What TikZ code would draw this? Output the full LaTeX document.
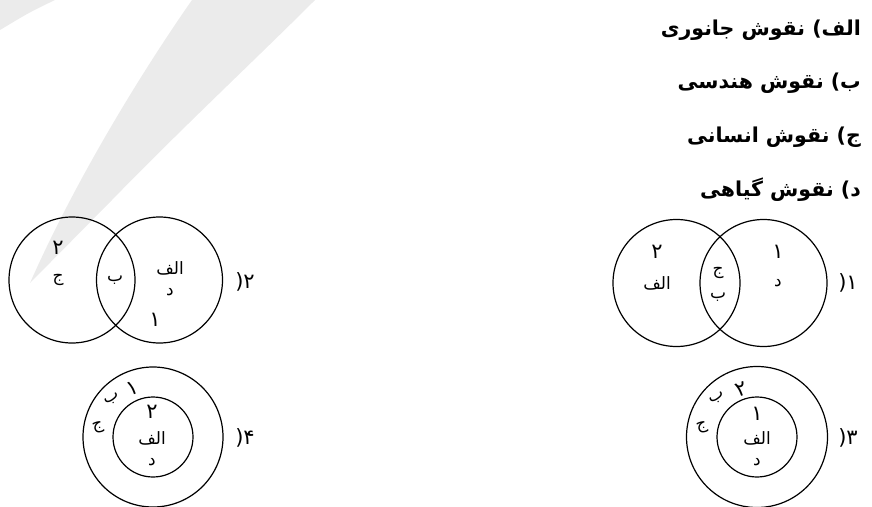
\documentclass[tikz,border=0pt]{standalone}
\usepackage{fontspec}
\newfontfamily\fa[Script=Arabic]{DejaVu Sans}
\TeXXeTstate=1
\newcommand{\rl}[1]{\beginR#1\endR}
\definecolor{wmark}{gray}{0.92}
\tikzset{
  ring/.style={draw,circle,line width=1.2pt,inner sep=0pt},
  lbl/.style={font=\fa\fontsize{17}{17}\selectfont,inner sep=0pt},
  num/.style={lbl,font=\fa\fontsize{21}{21}\selectfont},
  opt/.style={lbl,font=\fa\fontsize{21}{21}\selectfont},
  head/.style={anchor=east,inner sep=0pt,font=\fa\bfseries\fontsize{20.5}{20.5}\selectfont},
}

\begin{document}
\begin{tikzpicture}[x=1pt,y=-1pt]
\useasboundingbox (0,0) rectangle (872,506);
% watermark
\fill[wmark] (192,0) .. controls (150,60) and (80,170) .. (30,283)
  -- (112,200) .. controls (180,130) and (260,55) .. (315,0) -- cycle;
\fill[wmark] (0,0) -- (55,0) .. controls (30,12) .. (0,30) -- cycle;
% headings
\node[head] (h1) at (861,30) {\rl{الف) نقوش جانوری}};
\node[head] (h2) at (861,83) {\rl{ب) نقوش هندسی}};
\node[head] (h3) at (861,137) {\rl{ج) نقوش انسانی}};
\node[head] (h4) at (861,190) {\rl{د) نقوش گیاهی}};
% option 1
\node[ring,minimum size=127pt] (a1) at (676.5,283) {};
\node[ring,minimum size=127pt] (b1) at (763.5,283) {};
\node[num] (a1n) at (657,252) {\rl{۲}};
\node[lbl] (a1t) at (657,283) {\rl{الف}};
\node[lbl] (m1a) at (718,273) {\rl{ج}};
\node[lbl] (m1b) at (718,297) {\rl{ب}};
\node[num] (b1n) at (778,252) {\rl{۱}};
\node[lbl] (b1t) at (778,283) {\rl{د}};
\node[opt] (o1) at (848,283) {\rl{۱(}};
% option 2
\node[ring,minimum size=126pt] (a2) at (72,280) {};
\node[ring,minimum size=126pt] (b2) at (159.5,280) {};
\node[num] (a2n) at (58,248) {\rl{۲}};
\node[lbl] (a2t) at (58,280) {\rl{ج}};
\node[lbl] (m2) at (115,280) {\rl{ب}};
\node[lbl] (b2t) at (170,268) {\rl{الف}};
\node[lbl] (b2d) at (170,292) {\rl{د}};
\node[num] (b2n) at (155,320) {\rl{۱}};
\node[opt] (o2) at (245,282) {\rl{۲(}};
% option 3
\node[ring,minimum size=141pt] (out3) at (757,437) {};
\node[ring,minimum size=80pt] (in3) at (757,437) {};
\node[num,rotate=20] (r3a) at (742,389) {\rl{۲}};
\node[lbl,rotate=28] (r3b) at (717,399) {\rl{ب}};
\node[lbl,rotate=15] (r3c) at (702,428) {\rl{ج}};
\node[num] (i3a) at (757,414) {\rl{۱}};
\node[lbl] (i3b) at (757,438) {\rl{الف}};
\node[lbl] (i3c) at (757,462) {\rl{د}};
\node[opt] (o3) at (848,438) {\rl{۳(}};
% option 4
\node[ring,minimum size=140pt] (out4) at (153,437) {};
\node[ring,minimum size=80pt] (in4) at (153,437) {};
\node[num,rotate=20] (r4a) at (133,388) {\rl{۱}};
\node[lbl,rotate=28] (r4b) at (112,400) {\rl{ب}};
\node[lbl,rotate=15] (r4c) at (98,428) {\rl{ج}};
\node[num] (i4a) at (152,412) {\rl{۲}};
\node[lbl] (i4b) at (152,438) {\rl{الف}};
\node[lbl] (i4c) at (152,462) {\rl{د}};
\node[opt] (o4) at (245,438) {\rl{۴(}};
\end{tikzpicture}
\end{document}
